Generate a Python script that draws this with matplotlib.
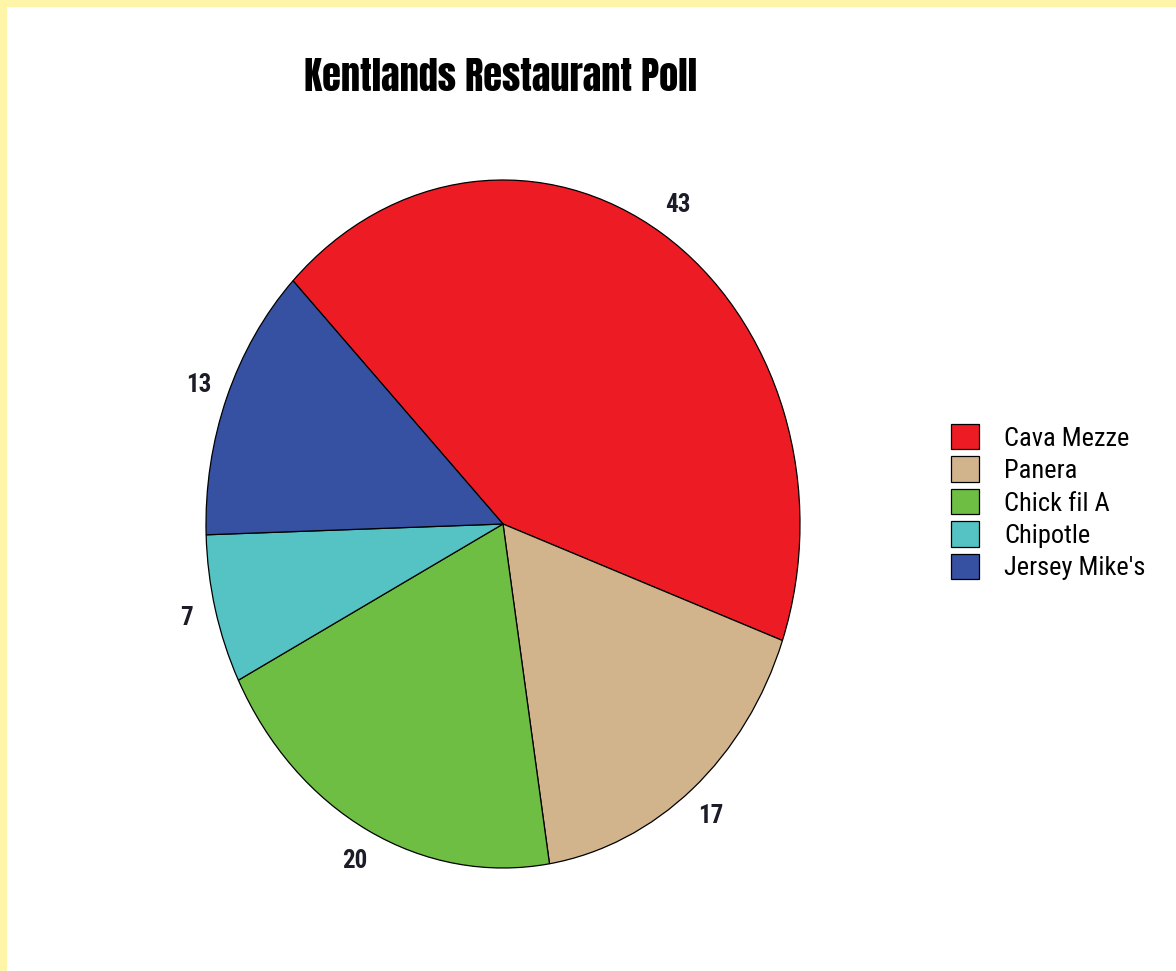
import matplotlib.pyplot as plt
import matplotlib.patches as mpatches
from matplotlib import font_manager

# Data
restaurants = ["Cava Mezze", "Panera", "Chick fil A", "Chipotle", "Jersey Mike's"]
votes = [43, 17, 20, 7, 13]
colors = ["#ED1C24", "#D2B48C", "#6FBE44", "#55C3C3", "#3650A2"]

names = {f.name for f in font_manager.fontManager.ttflist}


def pick(*cands):
    for c in cands:
        if c in names:
            return c
    return "DejaVu Sans"


title_font = pick("Anton", "Oswald", "Bebas Neue", "DejaVu Sans")
narrow = pick("Liberation Sans Narrow", "Arimo Narrow", "Roboto Condensed",
              "Archivo Narrow", "Liberation Sans")

W, H = 1176, 971
fig = plt.figure(figsize=(W / 100, H / 100), dpi=100, facecolor="white")

# yellow page border (top and left)
yellow = "#FFF5A8"
fig.add_artist(mpatches.Rectangle((0, 1 - 7 / H), 1, 7 / H, transform=fig.transFigure,
                                  facecolor=yellow, edgecolor="none"))
fig.add_artist(mpatches.Rectangle((0, 0), 7 / W, 1, transform=fig.transFigure,
                                  facecolor=yellow, edgecolor="none"))

# pie axes, stretched vertically like the original
cx, cy, rx, ry = 503, 524, 297, 344
ax = fig.add_axes([(cx - 1.25 * rx) / W, (H - cy - 1.25 * ry) / H,
                   2.5 * rx / W, 2.5 * ry / H])

wedges, texts = ax.pie(votes, labels=[str(v) for v in votes], colors=colors,
                       startangle=135, counterclock=False, labeldistance=1.1,
                       wedgeprops=dict(edgecolor="black", linewidth=0.9),
                       textprops=dict(fontsize=18, fontweight="bold", family=narrow,
                                      color="#1c1c28"))
for t in texts:
    t.set_ha("center")
    t.set_va("center")
ax.set_aspect("auto")
ax.set_xlim(-1.25, 1.25)
ax.set_ylim(-1.25, 1.25)

fig.text(501 / W, 1 - 77 / H, "Kentlands Restaurant Poll", ha="center", va="center",
         fontsize=27.5, family=title_font, color="black")

fig.legend(wedges, restaurants, loc="upper left",
           bbox_to_anchor=(951 / W, 1 - 424 / H), frameon=False,
           prop=dict(family=narrow, size=19),
           handlelength=1.06, handleheight=1.1, handletextpad=0.95,
           labelspacing=0.22, borderpad=0, borderaxespad=0)

fig.savefig("out.png", dpi=100, facecolor="white")
